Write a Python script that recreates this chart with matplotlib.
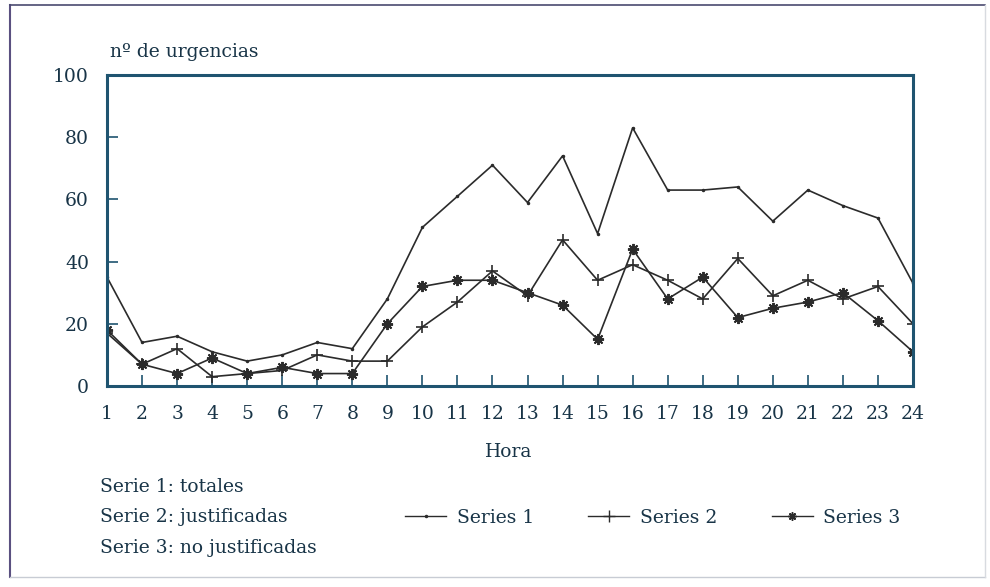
import matplotlib
matplotlib.use("Agg")
import matplotlib.pyplot as plt
from matplotlib.lines import Line2D

hours = list(range(1, 25))
serie1 = [35, 14, 16, 11, 8, 10, 14, 12, 28, 51, 61, 71, 59, 74, 49, 83, 63, 63, 64, 53, 63, 58, 54, 33]
serie2 = [17, 7, 12, 3, 4, 5, 10, 8, 8, 19, 27, 37, 29, 47, 34, 39, 34, 28, 41, 29, 34, 28, 32, 20]
serie3 = [18, 7, 4, 9, 4, 6, 4, 4, 20, 32, 34, 34, 30, 26, 15, 44, 28, 35, 22, 25, 27, 30, 21, 11]
series_names = ["Series 1", "Series 2", "Series 3"]
yticks = [0, 20, 40, 60, 80, 100]
notes = ["Serie 1: totales", "Serie 2: justificadas", "Serie 3: no justificadas"]

plt.rcParams['font.family'] = ['DejaVu Serif']
TXT = '#183447'
SPINE = '#1f5470'
LINE = '#2b2b2b'
FS = 13.5

fig = plt.figure(figsize=(9.9, 5.87), dpi=100)
fig.patch.set_facecolor('white')
W, H = 990, 587

ax = fig.add_axes([107 / W, 1 - 386 / H, (913 - 107) / W, (386 - 75) / H])
ast = (8, 2, 0)
l1, = ax.plot(hours, serie1, color=LINE, lw=1.2, marker='.', ms=3)
l2, = ax.plot(hours, serie2, color=LINE, lw=1.2, marker='+', ms=9, mew=1.2)
l3, = ax.plot(hours, serie3, color=LINE, lw=1.2, marker=ast, ms=8, mew=1.4)

ax.set_xlim(1, 24)
ax.set_ylim(0, 100)
ax.set_xticks(hours)
ax.set_yticks(yticks)
for s in ax.spines.values():
    s.set_color(SPINE)
    s.set_linewidth(2.2)
ax.tick_params(direction='in', length=8, width=1.2, color=SPINE,
               labelsize=FS, labelcolor=TXT)
ax.tick_params(axis='x', pad=14)
ax.tick_params(axis='y', pad=13)
ax.set_facecolor('white')

fig.text(110 / W, 1 - 52 / H, "nº de urgencias", fontsize=FS, color=TXT,
         ha='left', va='center')
fig.text(509 / W, 1 - 452 / H, "Hora", fontsize=FS, color=TXT,
         ha='center', va='center')
for i, t in enumerate(notes):
    fig.text(100 / W, 1 - (487 + 30.5 * i) / H, t, fontsize=FS, color=TXT,
             ha='left', va='center')

handles = [Line2D([], [], color=LINE, lw=1.0, marker='.', ms=3),
           Line2D([], [], color=LINE, lw=1.0, marker='+', ms=8, mew=1.0),
           Line2D([], [], color=LINE, lw=1.0, marker=ast, ms=6, mew=1.1)]
leg = fig.legend(handles, series_names, loc='center left',
                 bbox_to_anchor=(405 / W, 1 - 518 / H), ncol=3, frameon=False,
                 fontsize=FS, handlelength=2.2, handletextpad=0.55,
                 columnspacing=2.9, borderpad=0, borderaxespad=0,
                 labelcolor=TXT)

# frame around the figure
fig.add_artist(Line2D([10 / W, 10 / W], [1 - 5 / H, 1 - 577 / H], color='#5a5080', lw=1.5))
fig.add_artist(Line2D([10 / W, 985 / W], [1 - 5 / H, 1 - 5 / H], color='#4a4a70', lw=1.2))
fig.add_artist(Line2D([10 / W, 985 / W], [1 - 577 / H, 1 - 577 / H], color='#c8ccd4', lw=1.0))
fig.add_artist(Line2D([985 / W, 985 / W], [1 - 5 / H, 1 - 577 / H], color='#d8dbe0', lw=1.0))

fig.savefig("out.png", dpi=100, facecolor='white')
